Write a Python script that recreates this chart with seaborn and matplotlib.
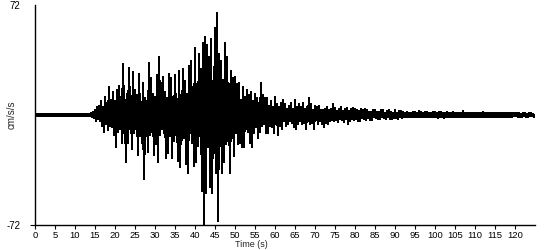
import numpy as np
import pandas as pd
import matplotlib
matplotlib.use("Agg")
import matplotlib.pyplot as plt
import seaborn as sns

# Acceleration samples (cm/s/s), 4 samples per second, read from the record
accel = [
    # 0-4 s
    0.4,-0.3,0.5,-0.4, 0.3,-0.5,0.4,-0.3, 0.5,-0.4,0.3,-0.4, 0.4,-0.3,0.4,-0.5, 0.3,-0.4,0.5,-0.3,
    # 5-9 s
    0.4,-0.5,0.3,-0.4, 0.5,-0.3,0.4,-0.4, 0.3,-0.4,0.4,-0.3, 0.4,-0.4,0.5,-0.5, 0.3,-0.3,0.4,-0.4,
    # 10-14 s
    0.5,-0.4,0.3,-0.5, 0.4,-0.3,0.5,-0.4, 0.4,-0.5,0.4,-0.3, 0.6,-0.5,0.7,-0.8, 1.2,-1.5,2.0,-1.8,
    # 15-19 s
    3,-4,5,-2.5, 6,-4,9,-7, 5,-11,12,-6, 8,-10,18,-7, 10,-8,15,-13,
    # 20-24 s
    9,-21,16,-11, 19,-9,12,-18, 33,-12,10,-31, 14,-18,31,-9, 11,-22,28,-12,
    # 25-29 s
    16,-9,13,-26, 27,-14,8,-18, 21,-42,11,-12, 9,-24,34,-13, 24,-11,14,-26,
    # 30-34 s
    12,-19,26,-31, 38,-13,21,-9, 25,-12,15,-28, 11,-25,27,-14, 24,-28,12,-17,
    # 35-39 s
    26,-13,10,-30, 29,-34,13,-16, 30,-15,22,-32, 14,-38,32,-12, 35,-18,14,-33,
    # 40-44 s
    44,-31,18,-20, 40,-14,30,-50, 47,-71,51,-51, 46,-20,38,-47, 50,-51,22,-25,
    # 45-49 s
    57,-38,67,-69, 40,-20,35,-38, 23,-31,47,-19, 38,-17,20,-38, 29,-15,24,-27,
    # 50-54 s
    25,-12,20,-19, 21,-18,10,-21, 18,-21,12,-9, 16,-11,13,-18, 15,-21,9,-12,
    # 55-59 s
    14,-8,11,-15, 8,-11,21,-7, 13,-6,11,-12, 11,-12,6,-7, 9,-8,5,-12,
    # 60-64 s
    12,-6,7,-13, 5,-7,8,-9, 10,-4,7,-7, 4,-6,6,-4, 8,-5,4,-8,
    # 65-69 s
    10,-9,5,-6, 7,-4,5,-6, 8,-5,4,-9, 5,-4,11,-6, 7,-5,3,-9,
    # 70-74 s
    6,-3,5,-6, 6,-4,3,-6, 3,-8,4,-5, 5,-6,3,-4, 4,-3,7,-4,
    # 75-79 s
    4.5,-3,2.5,-4.5, 4,-2.5,5,-3, 2.5,-4.5,4,-2.5, 4.5,-5.5,2.5,-4, 4,-2.5,4.5,-3,
    # 80-84 s
    4,-2.5,3,-4, 2.5,-4,4,-2, 3,-2.5,4,-3.5, 3,-2,2,-3, 2,-3,3,-1.5,
    # 85-89 s
    3.5,-2,2,-2.5, 2,-2.5,3,-1.5, 3,-2,1.5,-2.5, 2.5,-1.5,3,-2.5, 2,-2.5,1.5,-2,
    # 90-94 s
    3,-2,1.5,-2.5, 2.5,-1.5,2.5,-2, 2,-1.5,1.5,-1.5, 2,-1,1.5,-1.5, 1.5,-1.5,2,-1,
    # 95-99 s
    2,-1.5,1.5,-1.2, 2.5,-1,2,-1.5, 1.5,-1.2,2,-1.5, 2,-1.5,1.5,-1.2, 1.5,-1.5,2,-1.5,
    # 100-104 s
    2,-1.5,1.5,-2, 1.8,-1.5,2,-1.2, 1.5,-1.8,1.5,-1.2, 2,-1.2,1.5,-1.5, 1.5,-1.2,2,-1.5,
    # 105-109 s
    1.5,-1,1.2,-1.2, 1.2,-1,1.5,-1, 2.5,-1,1.2,-1, 1,-1.2,1.2,-1, 1.2,-1,1,-1.2,
    # 110-114 s
    1,-1,1.2,-1, 1.5,-1,1,-1, 1.8,-1,1.2,-1, 1,-1,1.2,-1, 1.2,-1.2,1,-1,
    # 115-119 s
    1.5,-1,1,-1, 1,-1,1.2,-1, 1,-1.2,1,-1, 1.2,-1,1,-1, 1,-1,1,-0.8,
    # 120-124 s
    1,-0.8,1.2,-1, 1,-1,0.8,-1, 1.2,-0.8,1,-1, 0.8,-1,1,-0.8, 1,-0.8,0.8,-1,
]
sample_step = 0.25  # seconds per sample
time_s = np.arange(len(accel)) * sample_step

x_ticks = list(range(0, 125, 5))
y_limit = 72

df = pd.DataFrame({"Time (s)": time_s, "accel": accel})

sns.set_style("white")
plt.rcParams["font.family"] = ["Liberation Sans", "DejaVu Sans"]

fig = plt.figure(figsize=(5.5, 2.5), dpi=100)
ax = fig.add_axes([35/550, 25/250, 500/550, 220/250])

sns.lineplot(data=df, x="Time (s)", y="accel", ax=ax, color="black",
             linewidth=1.0, estimator=None, sort=False, antialiased=False)

ax.set_xlim(0, 125)
ax.set_ylim(-y_limit, y_limit)

for s in ["top", "right"]:
    ax.spines[s].set_visible(False)
for s in ["left", "bottom"]:
    ax.spines[s].set_color("black")
    ax.spines[s].set_linewidth(1.0)

ax.set_xticks(x_ticks)
ax.set_xticklabels([str(v) for v in x_ticks], fontsize=6.8)
ax.tick_params(axis="x", direction="out", length=3, width=0.8, pad=1.5,
               colors="black", bottom=True)

ax.set_yticks([-y_limit])
ax.set_yticklabels([f"{-y_limit}"], fontsize=7)
ax.set_yticks([y_limit], minor=True)
ax.set_yticklabels([f"{y_limit}"], minor=True, fontsize=7)
ax.tick_params(axis="y", which="major", direction="out", length=3.6, width=0.8,
               pad=7, colors="black", left=True)
ax.tick_params(axis="y", which="minor", length=0, pad=10.5, colors="black", left=True)

ax.set_xlabel("Time (s)", fontsize=6.5)
ax.xaxis.set_label_coords((251-35)/500, -15/220)
ax.set_ylabel("cm/s/s", fontsize=7)
ax.yaxis.set_label_coords(-18/500, 0.5)

ax.grid(False)
fig.savefig("out.png", dpi=100, facecolor="white")
